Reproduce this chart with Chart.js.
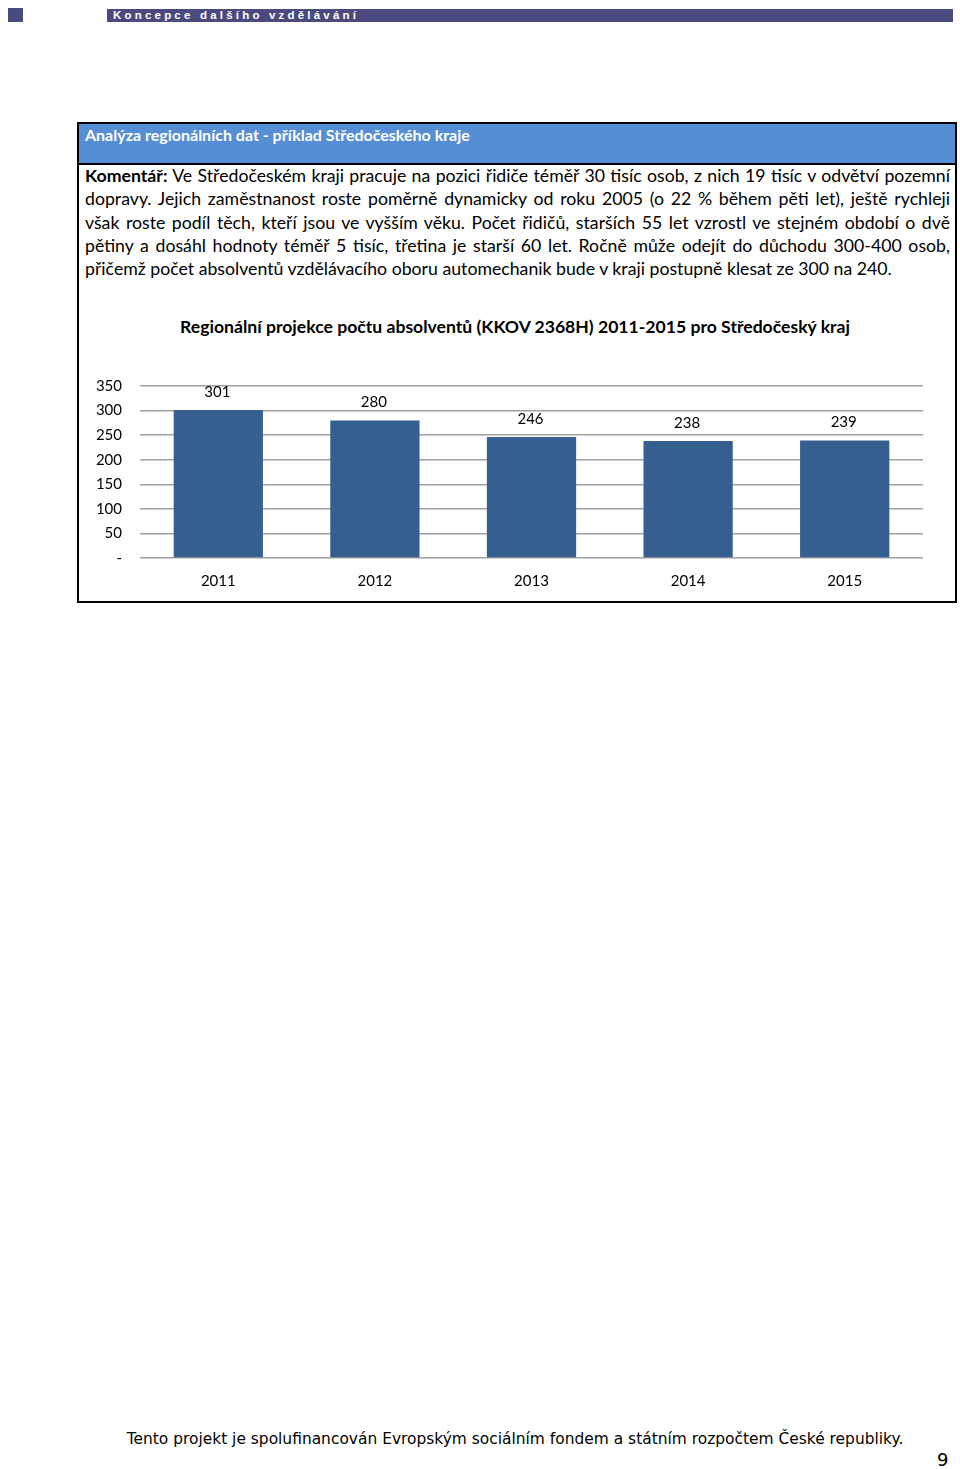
<!DOCTYPE html>
<html><head><meta charset="utf-8">
<script src="https://cdn.jsdelivr.net/npm/chart.js@4"></script>
<style>
html,body{margin:0;padding:0;background:#fff;}
body{width:960px;height:1469px;position:relative;overflow:hidden;font-family:Lato,"Open Sans",sans-serif;}
#sq{position:absolute;left:8px;top:8px;width:15px;height:14px;background:#4b4a7e;}
#topbar{position:absolute;left:107px;top:9px;width:846px;height:13px;background:#4b4a7e;}
#topbar span{position:absolute;left:6px;top:-1px;color:#fff;font-family:"Liberation Sans",Arial,sans-serif;font-weight:bold;font-size:11.5px;letter-spacing:3.2px;line-height:14px;}
#box{position:absolute;left:77px;top:122px;width:876px;height:477px;border:2px solid #000;}
#hdr{position:absolute;left:0;top:0;width:876px;height:39px;background:#558ed5;border-bottom:2px solid #000;}
#hdr span{position:absolute;left:6px;top:1px;color:#fff;font-weight:bold;font-size:16px;}
#txt{position:absolute;left:6px;top:40px;width:865px;font-size:17.7px;line-height:23.3px;color:#000;}
#txt div{text-align:justify;text-align-last:justify;white-space:nowrap;}
#txt div.last{text-align:left;text-align-last:left;}
#ctitle{position:absolute;left:0;top:192px;width:872px;text-align:center;font-weight:bold;font-size:17.6px;}
#cw{position:absolute;left:2px;top:246px;width:876px;height:230px;}
#foot{position:absolute;left:0;top:1430px;width:1030px;text-align:center;font-family:"DejaVu Sans",sans-serif;font-size:15.45px;}
#pn{position:absolute;left:937px;top:1449px;font-family:"DejaVu Sans",sans-serif;font-size:18px;}
</style></head>
<body>
<div id="sq"></div>
<div id="topbar"><span>Koncepce dalšího vzdělávání</span></div>
<div id="box">
 <div id="hdr"><span>Analýza regionálních dat - příklad Středočeského kraje</span></div>
 <div id="txt">
  <div><b>Komentář:</b> Ve Středočeském kraji pracuje na pozici řidiče téměř 30 tisíc osob, z nich 19 tisíc v odvětví pozemní</div>
  <div>dopravy. Jejich zaměstnanost roste poměrně dynamicky od roku 2005 (o 22 % během pěti let), ještě rychleji</div>
  <div>však roste podíl těch, kteří jsou ve vyšším věku. Počet řidičů, starších 55 let vzrostl ve stejném období o dvě</div>
  <div>pětiny a dosáhl hodnoty téměř 5 tisíc, třetina je starší 60 let. Ročně může odejít do důchodu 300-400 osob,</div>
  <div class="last">přičemž počet absolventů vzdělávacího oboru automechanik bude v kraji postupně klesat ze 300 na 240.</div>
 </div>
 <div id="ctitle">Regionální projekce počtu absolventů (KKOV 2368H) 2011-2015 pro Středočeský kraj</div>
 <div id="cw"><canvas id="c"></canvas></div>
</div>
<div id="foot">Tento projekt je spolufinancován Evropským sociálním fondem a státním rozpočtem České republiky.</div>
<div id="pn">9</div>
<script>
const categories = ['2011','2012','2013','2014','2015'];
const graduates = [301, 280, 246, 238, 239];
const yTicks = [0, 50, 100, 150, 200, 250, 300, 350];

const valueLabels = {
  id:'valueLabels',
  afterDatasetsDraw(chart){
    const ctx = chart.ctx;
    const meta = chart.getDatasetMeta(0);
    ctx.save();
    ctx.font = '15px Lato, sans-serif';
    ctx.fillStyle = '#000';
    ctx.textAlign = 'center';
    ctx.textBaseline = 'middle';
    meta.data.forEach((bar,i)=>{
      ctx.fillText(String(graduates[i]), bar.x - 1, bar.y - 18);
    });
    ctx.restore();
  }
};

new Chart(document.getElementById('c'), {
  type:'bar',
  data:{labels:categories, datasets:[{data:graduates, backgroundColor:'#365f91', categoryPercentage:1, barPercentage:0.57}]},
  options:{
    responsive:true, maintainAspectRatio:false, animation:false,
    layout:{padding:{top:16,right:34,bottom:0,left:0}},
    plugins:{legend:{display:false},tooltip:{enabled:false}},
    scales:{
      x:{grid:{display:false}, border:{display:false},
         afterFit(s){s.height=42; s.paddingLeft=0; s.paddingRight=0;},
         ticks:{color:'#000', font:{family:'Lato', size:15}, padding:6, maxRotation:0}},
      y:{min:yTicks[0], max:yTicks[yTicks.length-1],
         afterFit(s){s.width=59; s.paddingTop=0; s.paddingBottom=0;},
         afterBuildTicks(s){s.ticks = yTicks.map(v=>({value:v}));},
         grid:{color:'#a0a0a0', lineWidth:1.5, drawTicks:false},
         border:{display:false},
         ticks:{color:'#000', font:{family:'Lato', size:15}, padding:18, autoSkip:false,
                callback:v=> v===0 ? '-' : String(v)}}
    }
  },
  plugins:[valueLabels]
});
</script>
</body></html>
